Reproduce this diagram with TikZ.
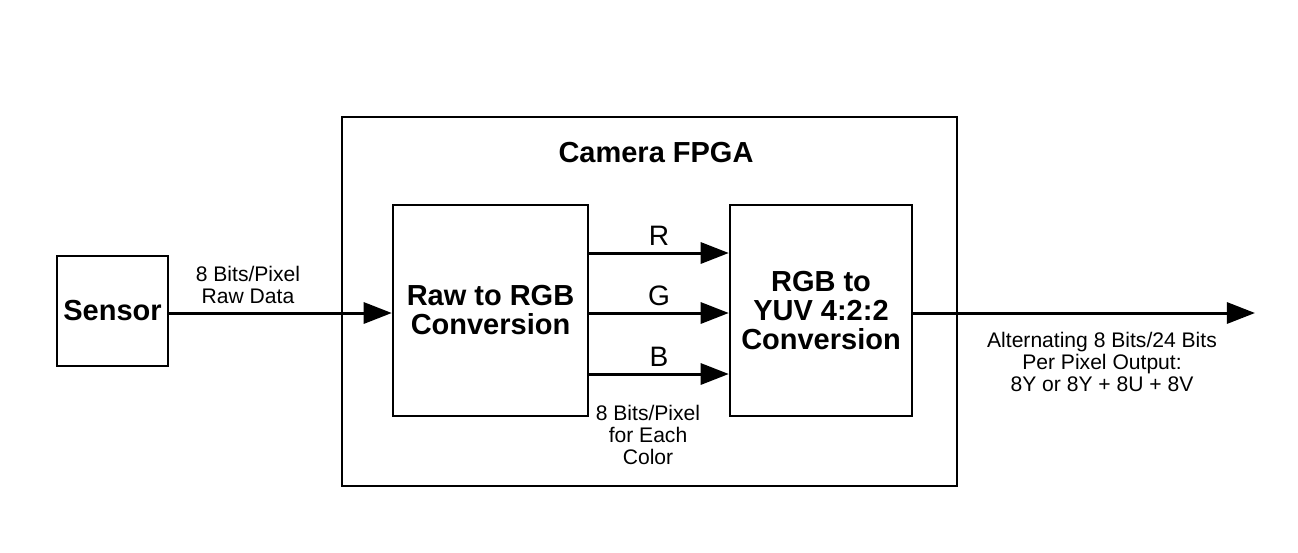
\documentclass[tikz,border=0pt]{standalone}
\usepackage{fontspec}
\setmainfont{Liberation Sans}
\usepackage{tikz}
\usetikzlibrary{positioning,arrows.meta}
\newcommand{\boxfont}{\fontsize{16.5}{16.5}\selectfont\bfseries}
\newcommand{\notefont}{\fontsize{12}{12.5}\selectfont}

\begin{document}
\begin{tikzpicture}[x=0.02cm,y=-0.02cm]
 \tikzset{block/.style={draw,line width=1.4pt,inner sep=0pt,align=center,font=\boxfont},
          arrow/.style={line width=1.7pt,-{Triangle[length=16pt,width=12pt]}},
          note/.style={align=center,inner sep=0pt,font=\notefont},
          chan/.style={above=3.5pt,inner sep=0pt,font=\fontsize{16}{16}\selectfont}}
 \useasboundingbox (0,0) rectangle (1298,552);
 \node[block,minimum width=12.3cm,minimum height=7.38cm] (fpga) at (649.5,301.5) {};
 \node[font=\boxfont] (title) at (656,153) {Camera FPGA};
 \node[block,minimum width=2.22cm,minimum height=2.2cm] (sensor) at (112.5,311) {Sensor};
 \node[block,minimum width=3.9cm,minimum height=4.22cm] (raw) at (490.5,310.5) {Raw to RGB\\Conversion};
 \node[block,minimum width=3.64cm,minimum height=4.22cm] (yuv) at (821,310.5) {RGB to\\YUV 4:2:2\\Conversion};
 \coordinate (out) at (1255,313);

 \draw[arrow] (sensor.east |- 0,313) -- (raw.west |- 0,313);
 \node[note] (rawlbl) at (248,285) {8 Bits/Pixel\\Raw Data};
 \draw[arrow] (raw.east |- 0,253) -- node[chan] (r) {R} (yuv.west |- 0,253);
 \draw[arrow] (raw.east |- 0,313) -- node[chan] (g) {G} (yuv.west |- 0,313);
 \draw[arrow] (raw.east |- 0,374) -- node[chan] (b) {B} (yuv.west |- 0,374);
 \node[note] (rgblbl) at (648,435) {8 Bits/Pixel\\for Each\\Color};
 \draw[arrow] (yuv.east |- out) -- (out);
 \node[note] (outlbl) at (1102,362) {Alternating 8 Bits/24 Bits\\Per Pixel Output:\\8Y or 8Y + 8U + 8V};
\end{tikzpicture}
\end{document}
